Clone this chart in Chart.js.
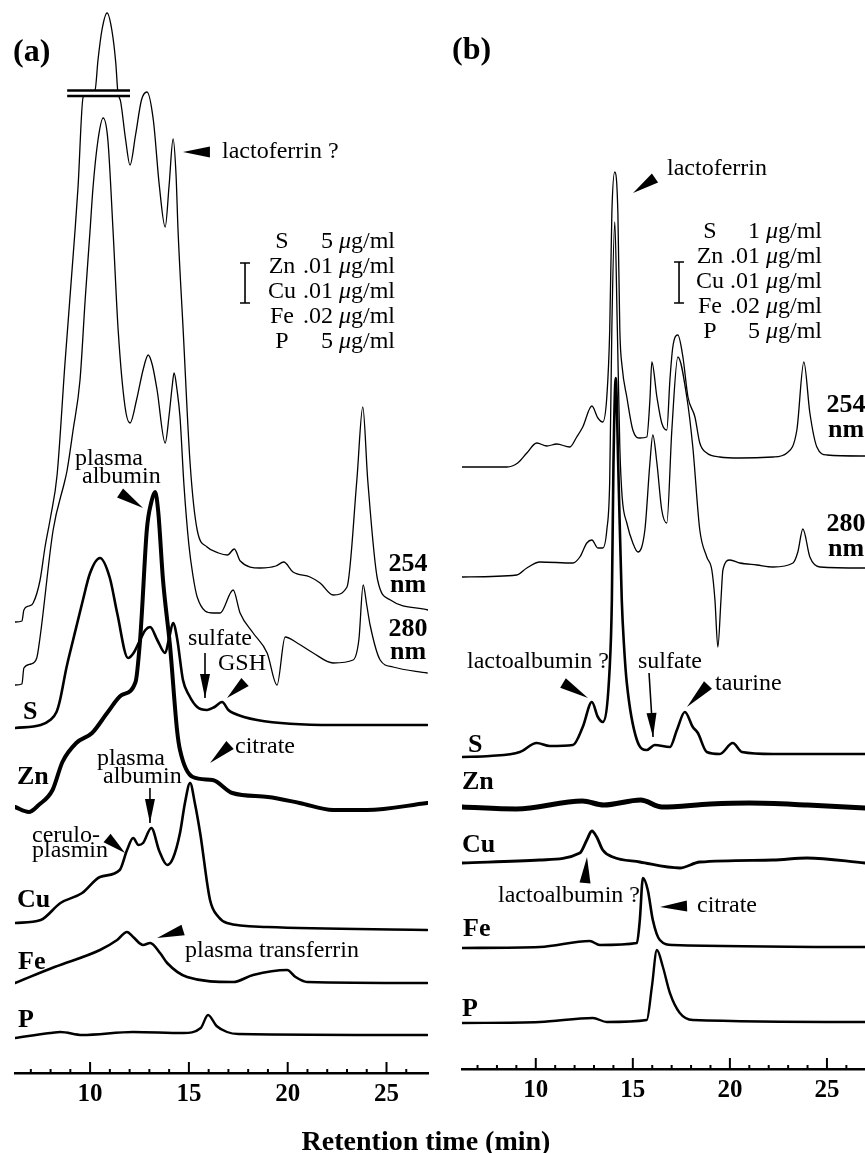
<!DOCTYPE html>
<html><head><meta charset="utf-8">
<script src="https://cdn.jsdelivr.net/npm/chart.js@4.4.1/dist/chart.umd.min.js"></script>
<style>
html,body{margin:0;padding:0;background:#fff;}
#wrap{position:relative;width:865px;height:1153px;overflow:hidden;background:#fff;font-family:'Liberation Serif','Times New Roman',serif;color:#000;}
canvas{position:absolute;top:0;}
.t{position:absolute;white-space:nowrap;line-height:1;}
</style></head><body>
<div id="wrap">
<canvas id="ca" width="440" height="1153" style="left:0"></canvas>
<canvas id="cb" width="425" height="1153" style="left:440px"></canvas>
</div>
<script>
// ---------- axis ticks ----------
const minorTicks = [7,8,9,10,11,12,13,14,15,16,17,18,19,20,21,22,23,24,25,26,27];
const labelTicks = [10,15,20,25];

// ---------- panel (a) traces: [retention time (min), signal above own baseline] ----------
const a254 = [[6.2,0],[6.55,1],[6.65,12],[6.9,16],[7.12,19],[7.47,42],[7.72,75],[8.0,105],[8.33,147],[8.73,259],[9.24,392],[9.39,435],[9.65,525],[10.25,532],[10.4,562],[10.6,592],[10.86,609],[11.1,592],[11.3,559],[11.4,531],[11.55,520],[11.8,482],[12.02,457],[12.3,487],[12.6,522],[12.88,530],[13.2,502],[13.5,437],[13.8,395],[14.0,437],[14.2,483],[14.35,447],[14.45,392],[14.71,292],[15.06,159],[15.42,92],[15.92,75],[16.5,69],[16.95,67],[17.3,73],[17.6,61],[18.6,54],[19.4,56],[19.8,60],[20.27,50],[21.13,45],[21.64,39],[22.3,27],[23.0,35],[23.5,142],[23.8,215],[24.05,142],[24.55,42],[25.2,22],[27.1,12]];
const a280 = [[6.2,0],[6.55,1],[6.65,17],[7.0,21],[7.3,27],[7.47,48],[8.13,155],[8.73,205],[8.84,215],[9.14,255],[9.49,305],[9.75,385],[10.0,455],[10.15,498],[10.4,545],[10.66,567],[10.9,545],[11.16,455],[11.42,355],[11.77,278],[12.02,262],[12.35,285],[12.68,315],[12.94,330],[13.15,320],[13.39,295],[13.8,242],[14.0,270],[14.15,298],[14.25,312],[14.4,295],[14.55,268],[14.75,200],[15.0,140],[15.2,110],[15.42,88],[16.22,72],[16.58,72],[17.24,95],[17.59,72],[18.25,52],[18.96,32],[19.46,0],[19.87,48],[20.48,42],[21.29,32],[22.3,22],[23.31,25],[23.6,45],[23.82,100],[24.0,80],[24.17,60],[24.68,25],[25.33,18],[27.06,12]];
const aS = [[6.2,0],[7.5,3],[7.98,8],[8.3,16],[8.48,28],[8.8,60],[9.14,88],[9.6,125],[10.0,155],[10.5,170],[11.0,150],[11.37,115],[11.92,70],[12.2,75],[12.53,88],[12.8,98],[13.04,101],[13.4,88],[13.8,75],[14.0,90],[14.2,105],[14.4,90],[14.7,48],[15.0,33],[15.42,21],[15.92,18],[16.3,21],[16.68,26],[17.0,18],[17.24,15],[18.45,8],[22.3,3],[27.06,3]];
const aZn = [[6.2,0],[6.9,-5],[7.4,2],[8.1,17],[8.6,45],[9.3,64],[10.1,74],[10.9,95],[11.6,112],[12.3,125],[12.53,167],[12.62,194],[12.87,277],[13.1,305],[13.29,315],[13.45,295],[13.69,227],[14.05,160],[14.4,77],[14.55,57],[15.2,30],[16.2,27],[17.2,14],[19.0,10],[20.6,4],[22.3,-3],[24.0,-3],[27.06,4]];
const aCu = [[6.2,0],[7.5,3],[8.5,20],[9.6,30],[10.5,46],[11.5,53],[11.87,73],[12.18,85],[12.45,78],[12.68,80],[13.1,95],[13.5,72],[13.9,58],[14.2,65],[14.55,90],[14.8,120],[15.06,140],[15.3,120],[15.57,90],[16.07,23],[16.5,6],[16.93,0],[18.96,-4],[27.06,-7]];
const aFe = [[6.2,0],[8.2,16],[10.5,33],[11.37,43],[11.87,51],[12.18,46],[12.68,38],[13.04,40],[13.54,30],[13.9,20],[14.91,6],[17.24,1],[18.25,8],[19.97,13],[20.4,6],[20.98,1],[27.06,0]];
const aP = [[6.2,0],[7.98,5],[8.5,6],[9.6,3],[12.18,6],[14.71,5],[15.6,10],[15.97,23],[16.4,12],[16.93,6],[17.5,4],[27.06,3]];

// ---------- panel (b) traces ----------
const b254 = [[6.2,0],[8.51,0],[9.07,4],[9.54,14],[10.05,24],[10.57,21],[11.08,23],[11.75,20],[12.11,30],[12.42,40],[12.89,61],[13.2,49],[13.45,45],[13.66,70],[13.81,137],[13.92,254],[14.07,295],[14.23,254],[14.33,137],[14.45,100],[14.69,70],[15.0,37],[15.36,29],[15.72,30],[15.88,67],[15.98,105],[16.24,70],[16.49,44],[16.75,37],[16.91,87],[17.06,120],[17.32,132],[17.58,110],[17.84,70],[18.2,50],[18.45,24],[18.81,14],[19.48,10],[20.52,9],[22.22,10],[22.94,14],[23.45,37],[23.81,105],[24.12,54],[24.48,20],[25.0,12],[26.96,11]];
const b280 = [[6.2,0],[9.02,2],[9.54,9],[10.21,15],[11.91,14],[12.27,20],[12.63,34],[12.89,37],[13.2,29],[13.45,29],[13.66,47],[13.81,97],[13.92,250],[14.07,355],[14.2,250],[14.33,130],[14.45,80],[14.69,54],[15.0,34],[15.26,25],[15.62,47],[15.88,114],[16.03,142],[16.24,114],[16.49,67],[16.75,54],[17.01,147],[17.32,220],[17.78,180],[18.09,130],[18.45,47],[18.81,20],[19.07,7],[19.23,-23],[19.38,-70],[19.54,-23],[19.64,7],[20.0,17],[20.52,14],[21.39,12],[22.22,10],[23.25,14],[23.5,25],[23.76,48],[24.12,20],[24.64,10],[26.96,9]];
const bS = [[6.2,0],[7.63,1],[9.18,5],[10.05,14],[10.72,11],[11.91,12],[12.42,30],[12.89,55],[13.2,40],[13.45,35],[13.81,90],[13.92,157],[14.0,290],[14.12,379],[14.25,290],[14.43,157],[14.55,110],[14.69,74],[15.21,17],[15.72,7],[16.13,12],[16.91,10],[17.27,27],[17.68,45],[18.09,30],[18.35,24],[18.81,5],[19.48,3],[20.15,14],[20.62,5],[22.22,3],[26.96,3]];
const bZn = [[6.2,0],[9.0,-2],[12.4,6],[13.5,2],[15.4,7],[16.5,0],[19.0,3],[21.0,4],[24.0,2],[26.96,-1]];
const bCu = [[6.2,0],[10.21,3],[12.27,10],[12.63,23],[12.89,32],[13.14,26],[13.45,13],[13.97,6],[15.36,1],[17.42,-5],[18.45,1],[22.22,3],[23.97,5],[26.96,0]];
const bFe = [[6.2,0],[10.21,1],[12.78,7],[13.3,3],[15.21,5],[15.36,28],[15.52,70],[15.77,58],[16.03,28],[16.39,8],[17.06,3],[26.96,1]];
const bP = [[6.2,0],[10.21,1],[12.94,5],[13.66,1],[15.72,3],[15.98,36],[16.24,73],[16.55,56],[16.91,30],[17.42,10],[18.09,3],[26.96,1]];

// ---------- layout (stack offsets, line widths) ----------
const traceA = [[a254,451,1.3],[a280,388,1.3],[aS,345,2.6],[aZn,266,4],[aCu,150,2.6],[aFe,90,2.6],[aP,35,2.4]];
const traceB = [[b254,602,1.3],[b280,492,1.3],[bS,312,2.6],[bZn,262,5],[bCu,206,2.8],[bFe,121,2.6],[bP,46,2.4]];

// arrows: [t, v(tip), dx, dy (tail offset px), kind]
const arrowsA = [[14.70,921,27,0,'h'],[12.68,565,-23,-15,'h'],[15.815,375,0,-45,'l'],[16.93,375,18,-16,'h'],[16.07,310,20,-18,'h'],[13.03,250,0,-35,'l'],[11.77,220,-18,-15,'h'],[13.39,135,26,-8,'h']];
const arrowsB = [[15.01,876,22,-15,'h'],[12.69,371,-25,-15,'h'],[16.04,332,-4,-64,'l'],[17.79,362,21,-22,'h'],[12.64,212,-2,26,'h'],[16.40,162,27,-1,'h']];

function mkDatasets(list){
  return list.map(([pts,off,w]) => ({
    data: pts.map(p => ({x:p[0], y:off + p[1]})),
    borderColor:'#000', borderWidth:w, pointRadius:0, fill:false,
    cubicInterpolationMode:'monotone', borderJoinStyle:'round', borderCapStyle:'round'
  }));
}

function head(ctx, tx, ty, fx, fy, len, w){
  const a = Math.atan2(ty-fy, tx-fx), c = Math.cos(a), s = Math.sin(a);
  const bx = tx - len*c, by = ty - len*s;
  ctx.beginPath();
  ctx.moveTo(tx,ty);
  ctx.lineTo(bx - w/2*s, by + w/2*c);
  ctx.lineTo(bx + w/2*s, by - w/2*c);
  ctx.closePath(); ctx.fill();
}

const annotPlugin = {
  id:'annot',
  afterDatasetsDraw(chart, args, opts){
    const ctx = chart.ctx, X = chart.scales.x, Y = chart.scales.y;
    ctx.save();
    ctx.fillStyle = '#000'; ctx.strokeStyle = '#000';
    for (const [t,v,dx,dy,k] of opts.arrows){
      const tx = X.getPixelForValue(t), ty = Y.getPixelForValue(v);
      const fx = tx+dx, fy = ty+dy;
      if (k === 'h'){
        head(ctx, tx, ty, fx, fy, Math.hypot(dx,dy), 11);
      } else {
        ctx.lineWidth = 1.6;
        ctx.beginPath(); ctx.moveTo(fx,fy); ctx.lineTo(tx,ty); ctx.stroke();
        head(ctx, tx, ty, fx, fy, 24, 10);
      }
    }
    if (opts.brk){
      const [t0,t1,v0,v1] = opts.brk;
      const x0 = X.getPixelForValue(t0), x1 = X.getPixelForValue(t1);
      const y0 = Y.getPixelForValue(v0), y1 = Y.getPixelForValue(v1);
      ctx.fillStyle = '#fff';
      ctx.fillRect(x0, y0, x1-x0, y1-y0);
      ctx.lineWidth = 2.6; ctx.strokeStyle = '#000';
      ctx.beginPath(); ctx.moveTo(x0,y0); ctx.lineTo(x1,y0); ctx.moveTo(x0,y1); ctx.lineTo(x1,y1); ctx.stroke();
    }
    if (opts.bar){
      const [t,v0,v1] = opts.bar;
      const x = X.getPixelForValue(t), y0 = Y.getPixelForValue(v0), y1 = Y.getPixelForValue(v1);
      ctx.lineWidth = 1.6; ctx.strokeStyle = '#000';
      ctx.beginPath();
      ctx.moveTo(x,y0); ctx.lineTo(x,y1);
      ctx.moveTo(x-5,y0); ctx.lineTo(x+5,y0);
      ctx.moveTo(x-5,y1); ctx.lineTo(x+5,y1);
      ctx.stroke();
    }
    ctx.restore();
  },
  afterDraw(chart){
    const s = chart.scales.x, ctx = chart.ctx;
    ctx.save(); ctx.strokeStyle = '#000'; ctx.lineWidth = 2;
    for (const tk of s.ticks){
      const x = s.getPixelForValue(tk.value);
      const len = labelTicks.includes(tk.value) ? 11 : 4;
      ctx.beginPath(); ctx.moveTo(x, s.top); ctx.lineTo(x, s.top - len); ctx.stroke();
    }
    ctx.restore();
  }
};

function makeChart(id, list, xmax, ymax, pad, annot){
  return new Chart(document.getElementById(id), {
    type:'line',
    data:{ datasets: mkDatasets(list) },
    options:{
      responsive:false, animation:false, devicePixelRatio:1,
      layout:{ padding: pad },
      plugins:{ legend:{display:false}, tooltip:{enabled:false}, annot: annot },
      scales:{
        x:{ type:'linear', min:6.2, max:xmax,
            afterBuildTicks: s => { s.ticks = minorTicks.filter(v => v >= s.min && v < s.max - 0.5).map(v => ({value:v})); },
            afterFit: s => { s.height = 40; },
            ticks:{ autoSkip:false, maxRotation:0, minRotation:0, padding:7, color:'#000',
                    font:{family:"'Liberation Serif', 'Times New Roman', serif", size:25, weight:'bold'},
                    callback: v => labelTicks.includes(v) ? String(v) : '' },
            grid:{ display:false, drawTicks:false },
            border:{ display:true, color:'#000', width:2.6 } },
        y:{ display:false, min:0, max:ymax }
      }
    },
    plugins:[annotPlugin]
  });
}

makeChart('ca', traceA, 27.1, 1073, {left:15, right:12, top:0, bottom:40},
  {arrows:arrowsA, brk:[8.84,12.02,982.5,977], bar:[17.84,770,810]});
makeChart('cb', traceB, 26.96, 1069, {left:22, right:0, top:0, bottom:44},
  {arrows:arrowsB, bar:[17.38,766,807]});

// ---------- text ----------
const wrap = document.getElementById('wrap');
function T(html, x, base, size, opt){
  opt = opt || {};
  const d = document.createElement('div');
  d.className = 't'; d.innerHTML = html;
  d.style.fontSize = size + 'px';
  d.style.left = x + 'px';
  d.style.top = (base - 0.8375*size) + 'px';
  if (opt.b) d.style.fontWeight = 'bold';
  if (opt.a === 'c') d.style.transform = 'translateX(-50%)';
  if (opt.a === 'r') d.style.transform = 'translateX(-100%)';
  wrap.appendChild(d);
}
const mu = '<i>&mu;</i>g/ml';
T('(a)', 13, 61, 32, {b:1});
T('(b)', 452, 59, 32, {b:1});
const legNames = ['S','Zn','Cu','Fe','P'];
const legA = ['5','.01','.01','.02','5'];
const legB = ['1','.01','.01','.02','5'];
legNames.forEach((n,i)=>{
  T(n, 282, 248 + 25*i, 24, {a:'c'});
  T(legA[i] + ' ' + mu, 395, 248 + 25*i, 24, {a:'r'});
  T(n, 710, 238 + 25*i, 24, {a:'c'});
  T(legB[i] + ' ' + mu, 822, 238 + 25*i, 24, {a:'r'});
});
T('lactoferrin ?', 222, 158, 24);
T('plasma', 75, 465, 24);
T('albumin', 82, 483, 24);
T('254', 408, 572, 26, {b:1, a:'c'});
T('nm', 408, 593, 26, {b:1, a:'c'});
T('280', 408, 637, 26, {b:1, a:'c'});
T('nm', 408, 660, 26, {b:1, a:'c'});
T('sulfate', 188, 645, 24);
T('GSH', 218, 670, 24);
T('S', 23, 720, 26, {b:1});
T('citrate', 235, 753, 24);
T('Zn', 17, 785, 26, {b:1});
T('plasma', 97, 765, 24);
T('albumin', 103, 783, 24);
T('cerulo-', 32, 842, 24);
T('plasmin', 32, 857, 24);
T('Cu', 17, 908, 26, {b:1});
T('plasma transferrin', 185, 957, 24);
T('Fe', 18, 970, 26, {b:1});
T('P', 18, 1028, 26, {b:1});
T('lactoferrin', 667, 175, 24);
T('254', 846, 413, 26, {b:1, a:'c'});
T('nm', 846, 438, 26, {b:1, a:'c'});
T('280', 846, 532, 26, {b:1, a:'c'});
T('nm', 846, 557, 26, {b:1, a:'c'});
T('lactoalbumin ?', 467, 668, 24);
T('sulfate', 638, 668, 24);
T('taurine', 715, 690, 24);
T('S', 468, 753, 26, {b:1});
T('Zn', 462, 790, 26, {b:1});
T('Cu', 462, 853, 26, {b:1});
T('lactoalbumin ?', 498, 902, 24);
T('citrate', 697, 912, 24);
T('Fe', 463, 937, 26, {b:1});
T('P', 462, 1017, 26, {b:1});
T('Retention time (min)', 426, 1150, 28, {b:1, a:'c'});
</script>
</body></html>
